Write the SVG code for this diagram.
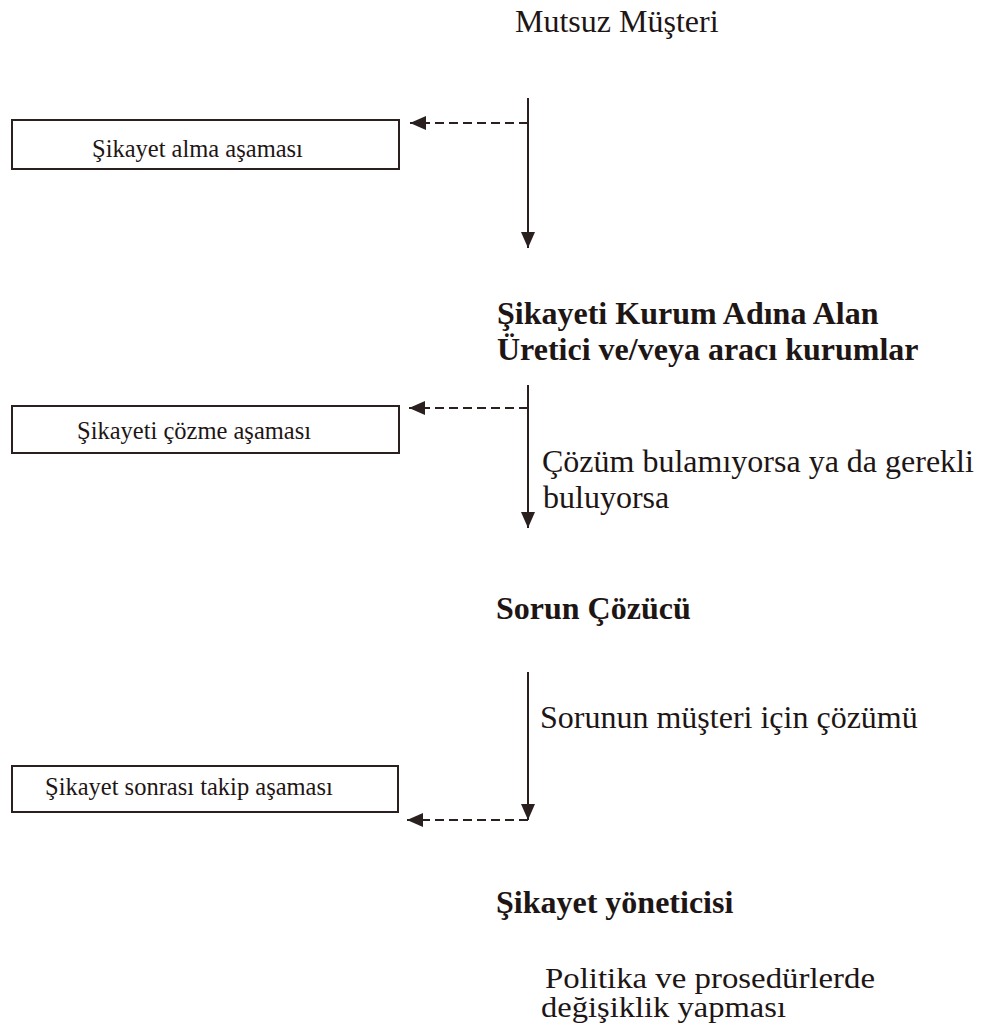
<svg xmlns="http://www.w3.org/2000/svg" width="982" height="1033" viewBox="0 0 982 1033">
<style>
text{font-family:"Liberation Serif","Times New Roman",serif;fill:#1e1515}
.b{font-weight:bold;font-size:32px}
.r{font-size:32px}
.s{font-size:24.5px}
.box{fill:#fff;stroke:#2a2020;stroke-width:2}
.ln{stroke:#2a2020;stroke-width:2;fill:none}
.dash{stroke:#2a2020;stroke-width:2.2;fill:none;stroke-dasharray:9 5}
</style>
<defs>
<marker id="ah" viewBox="0 0 16 14" refX="16" refY="7" markerWidth="16" markerHeight="14" markerUnits="userSpaceOnUse" orient="auto">
<path d="M0,0 L16,7 L0,14 z" fill="#2a2020"/>
</marker>
</defs>
<rect width="982" height="1033" fill="#fff"/>
<g id="connectors">
<line class="ln" x1="528" y1="98" x2="528" y2="248" marker-end="url(#ah)"/>
<line class="dash" x1="528" y1="123" x2="410" y2="123" marker-end="url(#ah)"/>
<line class="ln" x1="528" y1="385" x2="528" y2="528" marker-end="url(#ah)"/>
<line class="dash" x1="528" y1="408" x2="409" y2="408" marker-end="url(#ah)"/>
<line class="ln" x1="528" y1="672" x2="528" y2="820" marker-end="url(#ah)"/>
<line class="dash" x1="528" y1="820" x2="407" y2="820" marker-end="url(#ah)"/>
<text class="r" x="542" y="472" font-size="31">Çözüm bulamıyorsa ya da gerekli</text>
<text class="r" x="543" y="508" font-size="31">buluyorsa</text>
<text class="r" x="540" y="728">Sorunun müşteri için çözümü</text>
</g>
<g id="mutsuz-musteri">
<text class="r" x="515" y="32">Mutsuz Müşteri</text>
</g>
<g id="sikayet-alma">
<rect class="box" x="12" y="120" width="387" height="49"/>
<text class="s" x="92" y="157">Şikayet alma aşaması</text>
</g>
<g id="kurum">
<text class="b" x="497" y="324">Şikayeti Kurum Adına Alan</text>
<text class="b" x="497" y="360">Üretici ve/veya aracı kurumlar</text>
</g>
<g id="sikayet-cozme">
<rect class="box" x="12" y="406" width="387" height="47"/>
<text class="s" x="77" y="439">Şikayeti çözme aşaması</text>
</g>
<g id="sorun-cozucu">
<text class="b" x="496" y="619">Sorun Çözücü</text>
</g>
<g id="sikayet-sonrasi">
<rect class="box" x="12" y="766" width="386" height="46"/>
<text class="s" x="45" y="795">Şikayet sonrası takip aşaması</text>
</g>
<g id="sikayet-yoneticisi">
<text class="b" x="496" y="913">Şikayet yöneticisi</text>
<text x="545" y="988" font-size="29" textLength="330" lengthAdjust="spacingAndGlyphs">Politika ve prosedürlerde</text>
<text x="541" y="1017" font-size="29" textLength="245" lengthAdjust="spacingAndGlyphs">değişiklik yapması</text>
</g>
</svg>
